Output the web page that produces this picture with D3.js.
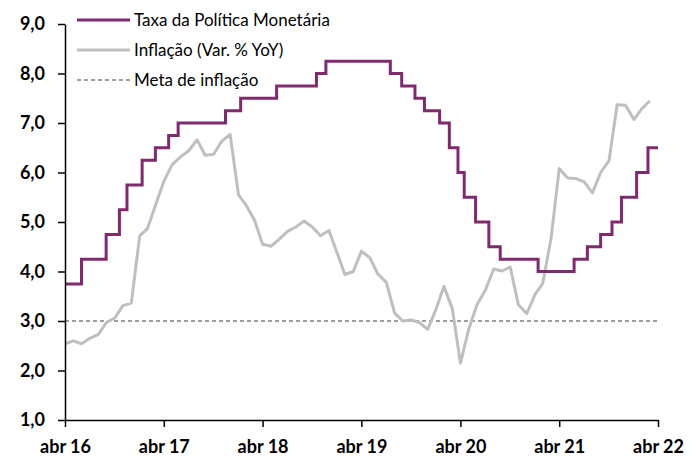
<!DOCTYPE html>
<html>
<head>
<meta charset="utf-8">
<script src="https://cdn.jsdelivr.net/npm/d3@7"></script>
<style>
  html, body { margin: 0; padding: 0; background: #fff; }
  svg { display: block; }
  text { font-family: Lato, "Open Sans", sans-serif; }
</style>
</head>
<body>
<svg id="chart" width="699" height="459"></svg>
<script>
// ---- Data ----
// Policy rate (Taxa da Política Monetária): change dates and new levels
const policyDates = [
  "2016-04-30", "2016-06-30", "2016-09-29", "2016-11-17", "2016-12-15",
  "2017-02-09", "2017-03-30", "2017-05-18", "2017-06-22", "2017-12-14",
  "2018-02-08", "2018-06-21", "2018-11-15", "2018-12-20", "2019-08-15",
  "2019-09-26", "2019-11-14", "2019-12-19", "2020-02-13", "2020-03-20",
  "2020-04-21", "2020-05-14", "2020-06-25", "2020-08-13", "2020-09-24",
  "2021-02-11", "2021-06-24", "2021-08-12", "2021-09-30", "2021-11-11",
  "2021-12-16", "2022-02-10", "2022-03-24", "2022-04-30"
];
const policyRates = [
  3.75, 4.25, 4.75, 5.25, 5.75,
  6.25, 6.50, 6.75, 7.00, 7.25,
  7.50, 7.75, 8.00, 8.25, 8.00,
  7.75, 7.50, 7.25, 7.00, 6.50,
  6.00, 5.50, 5.00, 4.50, 4.25,
  4.00, 4.25, 4.50, 4.75, 5.00,
  5.50, 6.00, 6.50, 6.50
];
// Inflation YoY, monthly from April 2016 to March 2022
const inflationStart = [2016, 4]; // year, month (1-based): April 2016
const inflation = [
  2.54, 2.60, 2.54, 2.65, 2.73, 2.97, 3.06, 3.31, 3.36,
  4.72, 4.86, 5.35, 5.82, 6.16, 6.31, 6.44, 6.66, 6.35, 6.37, 6.63, 6.77,
  5.55, 5.34, 5.04, 4.55, 4.51, 4.65, 4.81, 4.90, 5.02, 4.90, 4.72, 4.83,
  4.37, 3.94, 4.00, 4.41, 4.28, 3.95, 3.78, 3.16, 3.00, 3.02, 2.97, 2.83,
  3.24, 3.70, 3.25, 2.15, 2.84, 3.33, 3.62, 4.05, 4.01, 4.09, 3.33, 3.15,
  3.54, 3.76, 4.67, 6.08, 5.89, 5.88, 5.81, 5.59, 6.00, 6.24, 7.37, 7.36,
  7.07, 7.28, 7.45
];
const inflationTarget = 3.0;
const xTickDates = ["2016-04-30","2017-04-30","2018-04-30","2019-04-30","2020-04-30","2021-04-30","2022-04-30"];
const xTickLabels = ["abr 16","abr 17","abr 18","abr 19","abr 20","abr 21","abr 22"];
const yTicks = [1, 2, 3, 4, 5, 6, 7, 8, 9];
const legendLabels = ["Taxa da Política Monetária", "Inflação (Var. % YoY)", "Meta de inflação"];

// ---- Layout ----
const parse = d3.utcParse("%Y-%m-%d");
const mLeft = 65, mRight = 658, mTop = 24, mBottom = 420;
const svg = d3.select("#chart");

const x = d3.scaleUtc()
  .domain([parse(xTickDates[0]), parse(xTickDates[xTickDates.length - 1])])
  .range([mLeft, mRight]);
const y = d3.scaleLinear().domain([1, 9]).range([mBottom, mTop]);

const purple = "#7f2a6c";
const grey = "#bfbfbf";

// Target dashed line
svg.append("line")
  .attr("x1", x.range()[0]).attr("x2", x.range()[1])
  .attr("y1", y(inflationTarget)).attr("y2", y(inflationTarget))
  .attr("stroke", "#7f7f7f").attr("stroke-width", 1.5)
  .attr("stroke-dasharray", "4,3");

// Inflation line
const inflData = inflation.map((v, i) => ({
  d: new Date(Date.UTC(inflationStart[0], inflationStart[1] + i, 0)),
  v
}));
svg.append("path")
  .datum(inflData)
  .attr("fill", "none")
  .attr("stroke", grey)
  .attr("stroke-width", 3)
  .attr("stroke-linejoin", "round")
  .attr("d", d3.line().x(p => x(p.d)).y(p => y(p.v)));

// Policy rate step line
const polData = policyDates.map((s, i) => ({ d: parse(s), v: policyRates[i] }));
svg.append("path")
  .datum(polData)
  .attr("fill", "none")
  .attr("stroke", purple)
  .attr("stroke-width", 3)
  .attr("d", d3.line().curve(d3.curveStepAfter).x(p => x(p.d)).y(p => y(p.v)));

// Axes
const yAxis = d3.axisLeft(y).tickValues(yTicks).tickSize(7).tickSizeOuter(0)
  .tickFormat(d => d3.format(".1f")(d).replace(".", ","));
const gy = svg.append("g").attr("transform", `translate(${mLeft},0)`).call(yAxis);
gy.selectAll("text").attr("font-size", 18).attr("font-weight", "bold")
  .attr("fill", "#000").attr("x", -20).attr("font-family", "Lato, sans-serif");

const xAxis = d3.axisBottom(x).tickValues(xTickDates.map(parse)).tickSize(7).tickSizeOuter(0)
  .tickFormat((d, i) => xTickLabels[i]);
const gx = svg.append("g").attr("transform", `translate(0,${mBottom})`).call(xAxis);
gx.selectAll("text").attr("font-size", 18).attr("font-weight", "bold")
  .attr("fill", "#000").attr("y", 20).attr("font-family", "Lato, sans-serif");

[gx, gy].forEach(g => {
  g.selectAll("path.domain").attr("stroke", "#000").attr("stroke-width", 1.5);
  g.selectAll(".tick line").attr("stroke", "#000").attr("stroke-width", 1.5);
});

// Legend
const legend = svg.append("g");
const styles = [
  { stroke: purple, dash: null, w: 3 },
  { stroke: grey, dash: null, w: 3 },
  { stroke: "#7f7f7f", dash: "4,3", w: 1.5 }
];
legendLabels.forEach((lab, i) => {
  const yy = 20 + i * 30;
  legend.append("line")
    .attr("x1", 77).attr("x2", 130).attr("y1", yy).attr("y2", yy)
    .attr("stroke", styles[i].stroke).attr("stroke-width", styles[i].w)
    .attr("stroke-dasharray", styles[i].dash);
  legend.append("text")
    .attr("x", 134).attr("y", yy).attr("dy", "0.35em")
    .attr("font-size", 17).attr("fill", "#000")
    .text(lab);
});
</script>
</body>
</html>
